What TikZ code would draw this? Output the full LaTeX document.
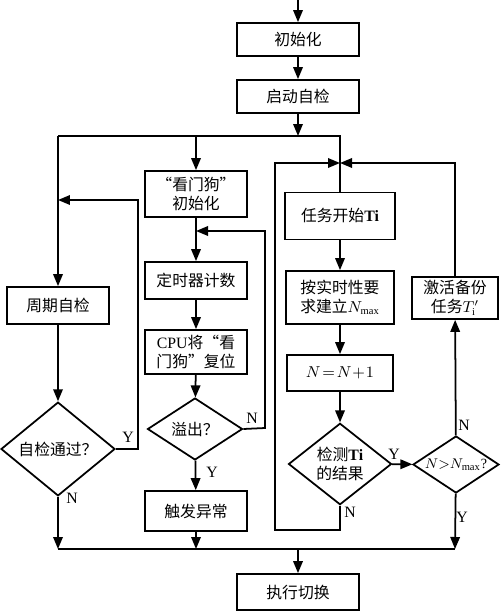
\documentclass[tikz,border=0pt]{standalone}
\usepackage{fontspec}
\setmainfont{Liberation Serif}
\newfontfamily\cjk{Noto Sans CJK SC}
\usetikzlibrary{shapes.geometric,arrows.meta}

\begin{document}
\begin{tikzpicture}[x=0.02cm,y=-0.02cm,
	box/.style={shape=rectangle,draw=black,line width=1pt,inner sep=1pt,align=center,font=\fontsize{9}{11}\selectfont\cjk},
	dia/.style={shape=diamond,draw=black,line width=1pt,inner sep=0pt,align=center,font=\fontsize{9}{11}\selectfont\cjk},
	arr/.style={-{Triangle[length=2.4mm,width=1.9mm]},line width=1pt},
	ln/.style={line width=1pt},
	yn/.style={inner sep=0pt,font=\fontsize{9}{11}\selectfont}]
	\useasboundingbox (0,0) rectangle (500,611);

	\node[box,minimum width=2.44cm,minimum height=0.66cm] (init)   at (298, 39.5) {初始化};
	\node[box,minimum width=2.44cm,minimum height=0.66cm] (start)  at (298, 96.5) {启动自检};
	\node[box,minimum width=2.04cm,minimum height=0.92cm] (wd)     at (196, 194)  {“看门狗”\\初始化};
	\node[box,minimum width=2.04cm,minimum height=0.74cm] (timer)  at (196, 280.5) {定时器计数};
	\node[box,minimum width=2.04cm,minimum height=0.88cm] (reset)  at (196, 352)  {\textrm{CPU}将“看\\门狗”复位};
	\node[dia,minimum width=1.9cm,minimum height=1.12cm]  (over)   at (195, 429)  {溢出？};
	\node[box,minimum width=2.04cm,minimum height=0.8cm]  (alarm)  at (196, 511)  {触发异常};
	\node[box,minimum width=2.04cm,minimum height=0.74cm] (period) at (58, 305.5) {周期自检};
	\node[dia,minimum width=2.28cm,minimum height=1.36cm] (pass)   at (58, 449)   {自检通过？};
	\node[box,minimum width=2.2cm,minimum height=0.94cm]  (task)   at (340, 216)  {任务开始\textrm{\textbf{Ti}}};
	\node[box,minimum width=2.16cm,minimum height=1.06cm] (nmax)   at (340, 297.5) {按实时性要\\求建立$N_{\max}$};
	\node[box,minimum width=2.12cm,minimum height=0.72cm] (inc)    at (340, 373)  {\rmfamily $N\!=\!N\!+\!1$};
	\node[dia,minimum width=2.06cm,minimum height=1.32cm] (detect) at (340, 464)  {检测\textrm{\textbf{Ti}}\\的结果};
	\node[dia,minimum width=1.72cm,minimum height=1.14cm,inner xsep=-7pt,inner ysep=-2pt,font=\fontsize{8}{10}\selectfont\rmfamily] (cmp) at (456, 464.5) {$N{>}N_{\max}$?};
	\node[box,minimum width=1.72cm,minimum height=0.84cm] (backup) at (455, 298)  {激活备份\\任务$T'_{\mathrm{i}}$};
	\node[box,minimum width=2.44cm,minimum height=0.72cm] (switch) at (298, 592)  {执行切换};

	\coordinate (top) at (298, 0);
	\coordinate (jl) at (58, 136);
	\coordinate (jm) at (196, 136);
	\coordinate (jc) at (298, 136);
	\coordinate (jr) at (340, 136);
	\coordinate (jt) at (340, 163);
	\coordinate (bl) at (58, 549);
	\coordinate (bm) at (196, 549);
	\coordinate (bc) at (298, 549);
	\coordinate (br) at (455, 549);

	\path[arr] (top) edge (init);
	\path[arr] (init) edge (start);
	\path[arr] (start) edge (jc);
	\draw[ln] (jl) -- (jr) -- (task);
	\path[arr] (jl) edge (period);
	\path[arr] (jm) edge (wd);
	\path[arr] (wd) edge (timer);
	\path[arr] (timer) edge (reset);
	\path[arr] (reset) edge (over);
	\path[arr] (over) edge (alarm);
	\path[arr] (alarm) edge (bm);
	\draw[arr] (over.east) -- (265, 428) -- (265, 231) -- (196, 231);
	\path[arr] (period) edge (pass);
	\draw[arr] (pass.east) -- (138, 449) -- (138, 200) -- (58, 200);
	\path[arr] (pass) edge (bl);
	\path[arr] (task) edge (nmax);
	\path[arr] (nmax) edge (inc);
	\path[arr] (inc) edge (detect);
	\path[arr] (detect) edge (cmp);
	\draw[arr] (detect.south) -- (340, 530) -- (275, 530) -- (275, 163) -- (jt);
	\path[arr] (cmp) edge (backup);
	\draw[arr] (backup.north) -- (455, 163) -- (jt);
	\path[arr] (cmp) edge (br);
	\draw[ln] (bl) -- (br);
	\path[arr] (bc) edge (switch);

	\node[yn] (y1) at (128, 437) {Y};
	\node[yn] (n1) at (72, 498)  {N};
	\node[yn] (n2) at (252, 418) {N};
	\node[yn] (y2) at (212, 472) {Y};
	\node[yn] (y3) at (394, 454) {Y};
	\node[yn] (n3) at (350, 512) {N};
	\node[yn] (n4) at (464, 425) {N};
	\node[yn] (y4) at (462, 517) {Y};
\end{tikzpicture}
\end{document}
